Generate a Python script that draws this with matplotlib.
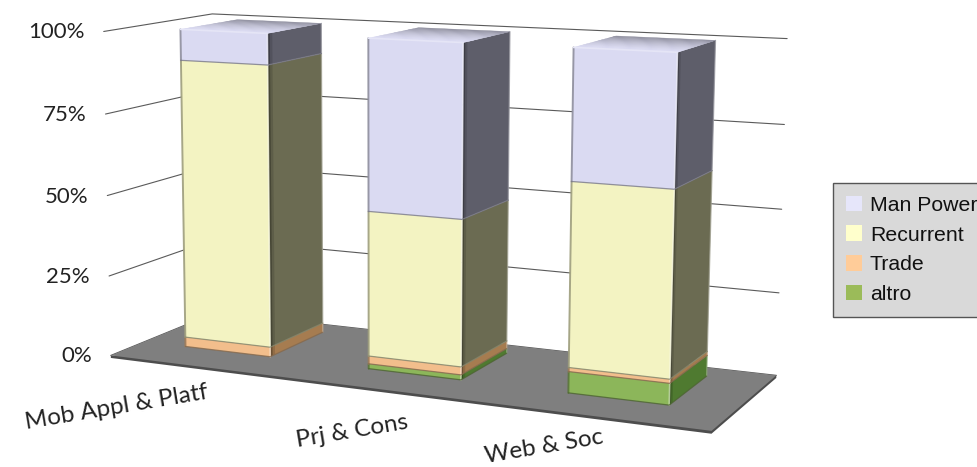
import numpy as np, matplotlib
matplotlib.use('Agg')
import matplotlib.pyplot as plt
from matplotlib.patches import Patch, Polygon

categories = ['Mob Appl & Platf', 'Prj & Cons', 'Web & Soc']
altro      = [0.0, 1.5, 6.3]
trade      = [3.0, 2.4, 1.2]
recurrent  = [87.0, 44.1, 54.1]
man_power  = [9.5, 51.5, 38.0]
tick_values = [0, 25, 50, 75, 100]
tick_labels = ['0%', '25%', '50%', '75%', '100%']
series_names = ['altro', 'Trade', 'Recurrent', 'Man Power']

front = ['#8CB65A', '#F2BE8C', '#F3F3C2', '#DADAF2']
side  = ['#4F7A30', '#A67C50', '#6B6B52', '#5E5E6A']
swatch = ['#9BBB59', '#FFCC99', '#FFFFCC', '#E6E6FA']

# camera: calibrated from the corners of the chart box
P = np.array([[511.40933, 124.20122, -9.75514, 110.81261],
              [21.33882, -15.89141, -324.75764, 355.4239],
              [-0.12556, 0.087, -0.02556, 1.0]])
def pr(x, y, z):
    q = P @ np.array([x, y, z, 1.0])
    return q[0]/q[2], q[1]/q[2]

fig = plt.figure(figsize=(9.78, 4.67), dpi=100)
ax = fig.add_axes([0, 0, 1, 1])
ax.set_xlim(0, 978); ax.set_ylim(467, 0); ax.axis('off')

def poly(pts, fc, z, ec='none', lw=0, alpha=None):
    ax.add_patch(Polygon(pts, closed=True, fc=fc, ec=ec, lw=lw, zorder=z, joinstyle='round', alpha=alpha))
def line(pts, c, lw, z, alpha=1):
    a = np.array(pts)
    ax.plot(a[:, 0], a[:, 1], color=c, lw=lw, zorder=z, alpha=alpha, solid_capstyle='round')

# wall grid
for v in tick_values:
    z = v/100
    line([pr(0, 0, z), pr(0, 1, z), pr(1, 1, z)], '#5a5a5a', 0.8, 1)
# floor with a thin edge
t = -0.008
poly([pr(0, 0, t), pr(1, 0, t), pr(1, 1, t), pr(1, 1, 0), pr(0, 0, 0)], '#4d4d4d', 2)
poly([pr(0, 0, 0), pr(1, 0, 0), pr(1, 1, 0), pr(0, 1, 0)], '#7f7f7f', 2.1)

# text
for v, lab in zip(tick_values, tick_labels):
    u, w = pr(0, 0, v/100)
    ax.text(u-19, w+1, lab, ha='right', va='center', family='Lato', fontsize=16, color='#222222')
cat_pos = [(116, 407), (352, 431), (544, 447)]
for (u, w), lab in zip(cat_pos, categories):
    ax.text(u, w, lab, ha='center', va='center', rotation=9.5, rotation_mode='anchor',
            family='Lato', fontsize=17.5, color='#222222')

# bars
x0s = [0.078, 0.412, 0.746]
bw, yf, yb = 0.158, 0.305, 0.85
def mix(c, k):
    r = np.array(matplotlib.colors.to_rgb(c))
    return tuple(r*(1-k)) if k > 0 else tuple(r+(1-r)*(-k))

data = np.array([altro, trade, recurrent, man_power])/100
for i, x0 in enumerate(x0s):
    x1 = x0+bw
    base = 0.0
    zo = 10+i
    for s in range(4):
        h = data[s, i]
        if h <= 0:
            continue
        top = base+h
        poly([pr(x1, yf, base), pr(x1, yb, base), pr(x1, yb, top), pr(x1, yf, top)], side[s], zo)
        for k, a in zip((0.024, 0.048), (0.25, 0.12)):
            poly([pr(x1, yf, base), pr(x1, yf+k, base), pr(x1, yf+k, top), pr(x1, yf, top)], '#000000', zo, alpha=a)
        poly([pr(x0, yf, base), pr(x1, yf, base), pr(x1, yf, top), pr(x0, yf, top)], front[s], zo)
        line([pr(x0, yf, base), pr(x0, yf, top)], mix(front[s], 0.35), 1.4, zo, 0.9)
        line([pr(x1, yf, base), pr(x1, yf, top)], mix(front[s], -0.5), 1.2, zo, 0.8)
        line([pr(x1, yb, base), pr(x1, yb, top)], mix(side[s], -0.35), 0.9, zo, 0.8)
        line([pr(x0, yf, base), pr(x1, yf, base), pr(x1, yb, base)], mix(front[s], 0.45), 0.9, zo, 0.8)
        base = top
    cap = front[3]
    tz = base
    n = 14
    ys = np.linspace(yb, yf, n+1)
    for j in range(n):
        f = (j+1)/n
        col = mix(cap, 0.38*(1-f)**1.4)
        poly([pr(x0, ys[j], tz), pr(x1, ys[j], tz), pr(x1, ys[j+1], tz), pr(x0, ys[j+1], tz)], col, zo, ec=col, lw=0.3)
    line([pr(x0, yf, tz), pr(x1, yf, tz)], mix(cap, -0.3), 1.2, zo)

handles = [Patch(fc=swatch[s], ec='none', label=series_names[s]) for s in (3, 2, 1, 0)]
leg = fig.legend(handles=handles, loc='upper left', bbox_to_anchor=(833/978, 1-183/467), borderaxespad=0,
                 prop={'family': 'Liberation Sans', 'size': 15.3}, handlelength=0.76, handleheight=0.76,
                 handletextpad=0.38, borderpad=0.6, labelspacing=0.49, fancybox=False,
                 facecolor='#D9D9D9', edgecolor='#555555', framealpha=1, labelcolor='#111111')
leg.get_frame().set_linewidth(1.0)
fig.savefig('out.png', dpi=100)
